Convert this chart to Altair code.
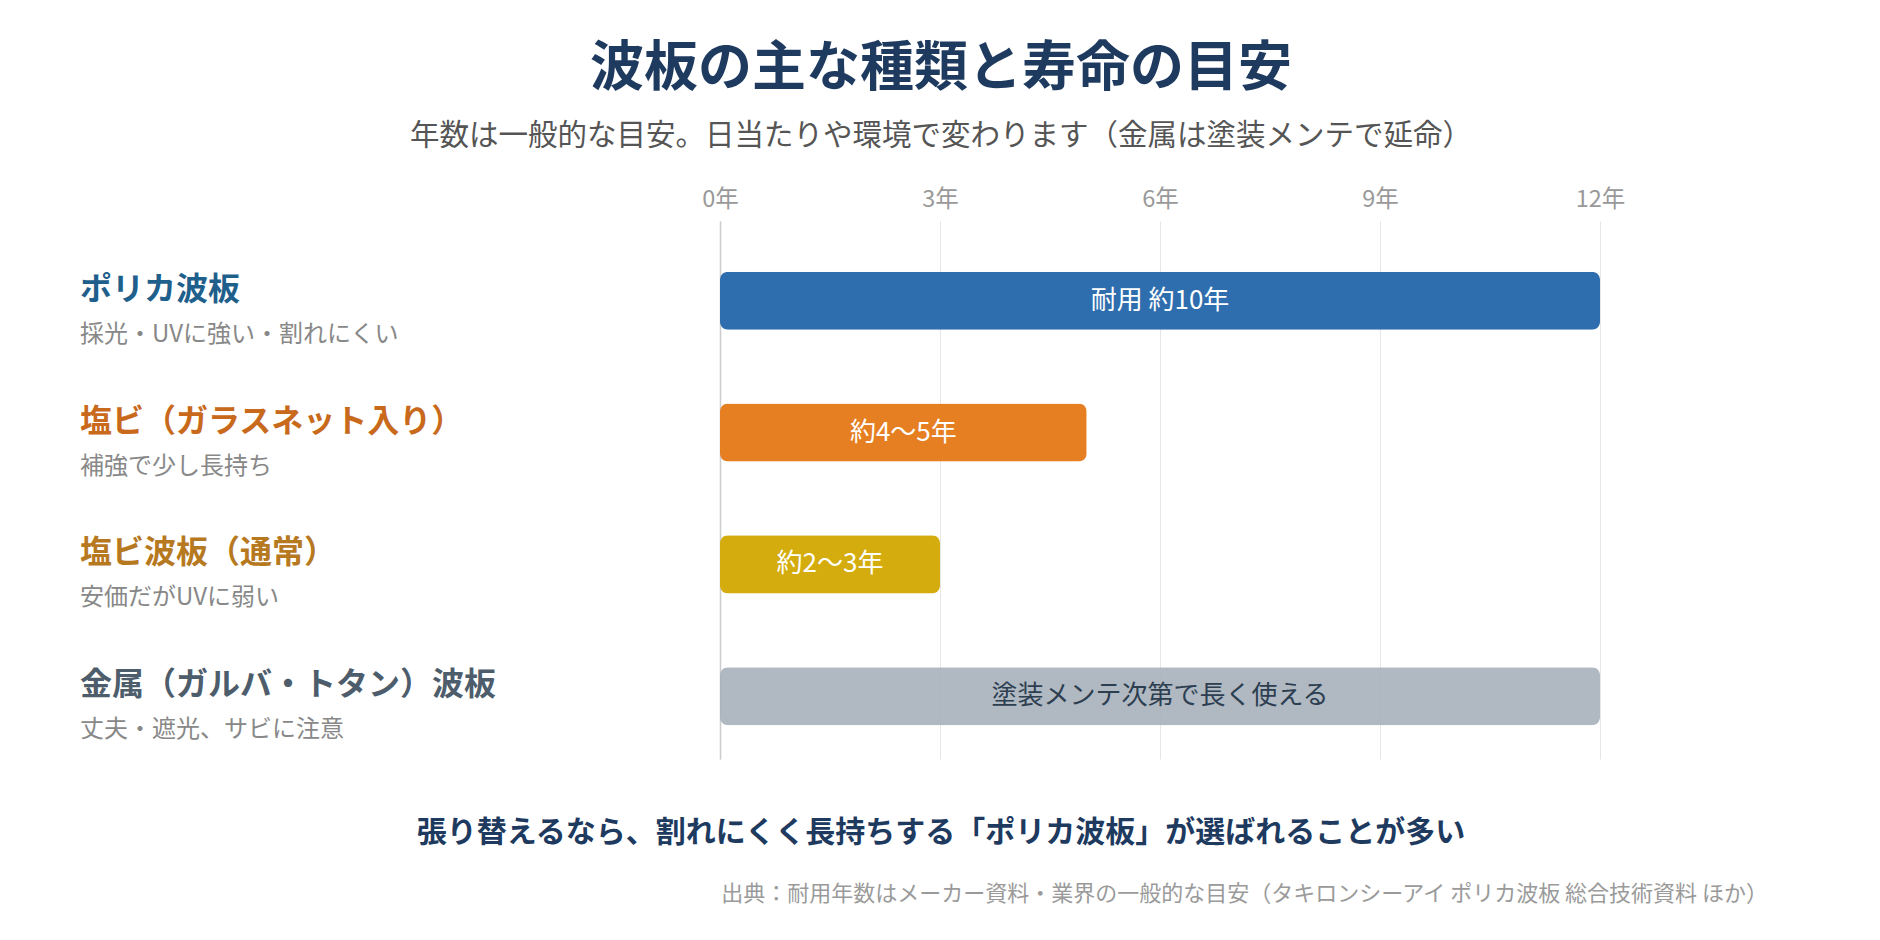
import altair as alt
import pandas as pd

FONT = "Noto Sans CJK JP"

names = ["ポリカ波板", "塩ビ（ガラスネット入り）", "塩ビ波板（通常）", "金属（ガルバ・トタン）波板"]
descs = ["採光・UVに強い・割れにくい", "補強で少し長持ち", "安価だがUVに弱い", "丈夫・遮光、サビに注意"]
years = [12, 5, 3, 12]
bar_labels = ["耐用 約10年", "約4〜5年", "約2〜3年", "塗装メンテ次第で長く使える"]
bar_colors = ["#2f6eae", "#e67e22", "#d4ac0d", "#a7b0bb"]
bar_opacity = [1.0, 1.0, 1.0, 0.9]
name_colors = ["#1f5f8b", "#c8691c", "#b7791f", "#4d5d6b"]
label_colors = ["#ffffff", "#ffffff", "#ffffff", "#2c3e50"]
x_ticks = [0, 3, 6, 9, 12]

title_text = "波板の主な種類と寿命の目安"
subtitle_text = "年数は一般的な目安。日当たりや環境で変わります（金属は塗装メンテで延命）"
note_text = "張り替えるなら、割れにくく長持ちする「ポリカ波板」が選ばれることが多い"
source_text = "出典：耐用年数はメーカー資料・業界の一般的な目安（タキロンシーアイ ポリカ波板 総合技術資料 ほか）"

df = pd.DataFrame({
    "name": names,
    "desc": descs,
    "years": years,
    "label": bar_labels,
    "barColor": bar_colors,
    "opacity": bar_opacity,
    "nameColor": name_colors,
    "labelColor": label_colors,
})

yscale = alt.Scale(domain=names, paddingInner=0.56, paddingOuter=0.32, align=0.6)
xscale = alt.Scale(domain=[0, 12], nice=False)

y_enc = alt.Y("name:N", scale=yscale, sort=names,
              axis=alt.Axis(title=None, labels=False, ticks=False, grid=False,
                            domain=True, domainColor="#cccccc", domainWidth=1.5))

bars = alt.Chart(df).mark_bar(cornerRadius=8).encode(
    x=alt.X("years:Q", scale=xscale,
            axis=alt.Axis(orient="top", values=x_ticks, title=None,
                          labelExpr="datum.value + '年'", labelFontSize=23.5,
                          labelColor="#999999", labelFont=FONT, labelPadding=10,
                          labelFlush=False, labelOverlap=False,
                          ticks=False, domain=False, grid=True,
                          gridColor="#e6e6e6", gridWidth=1)),
    y=y_enc,
    color=alt.Color("barColor:N", scale=None),
    opacity=alt.Opacity("opacity:Q", scale=None),
)

bar_text = alt.Chart(df).transform_calculate(mid="datum.years / 2").mark_text(
    font=FONT, fontSize=26, baseline="middle", align="center"
).encode(
    x=alt.X("mid:Q", scale=xscale),
    y=alt.Y("name:N", scale=yscale, sort=names),
    text="label:N",
    color=alt.Color("labelColor:N", scale=None),
)

name_text = alt.Chart(df).mark_text(
    font=FONT, fontSize=32, fontWeight="bold", align="left", baseline="middle", dy=-11
).encode(
    x=alt.value(-640),
    y=alt.Y("name:N", scale=yscale, sort=names),
    text="name:N",
    color=alt.Color("nameColor:N", scale=None),
)

desc_text = alt.Chart(df).mark_text(
    font=FONT, fontSize=24, align="left", baseline="middle", dy=34, color="#888888"
).encode(
    x=alt.value(-640),
    y=alt.Y("name:N", scale=yscale, sort=names),
    text="desc:N",
)


def label(text, x, y, size, color, weight="normal", align="center"):
    return alt.Chart(pd.DataFrame({"t": [text]})).mark_text(
        font=FONT, fontSize=size, fontWeight=weight, color=color,
        align=align, baseline="middle"
    ).encode(x=alt.value(x), y=alt.value(y), text="t:N")


title = label(title_text, 221, -151, 54, "#1e3a5f", "bold")
subtitle = label(subtitle_text, 221, -85, 29.5, "#555555")
note = label(note_text, 221, 612, 30, "#1e3a5f", "bold")
source = label(source_text, 1048, 673, 22, "#9a9a9a", align="right")

chart = alt.layer(bars, bar_text, name_text, desc_text, title, subtitle, note, source).properties(
    width=880, height=538,
    autosize=alt.AutoSizeParams(type="none"),
    padding={"left": 720, "top": 221, "right": 280, "bottom": 181},
    background="#ffffff",
).configure_view(stroke=None)

chart.save("out.html", embed_options={"renderer": "svg", "actions": False})
